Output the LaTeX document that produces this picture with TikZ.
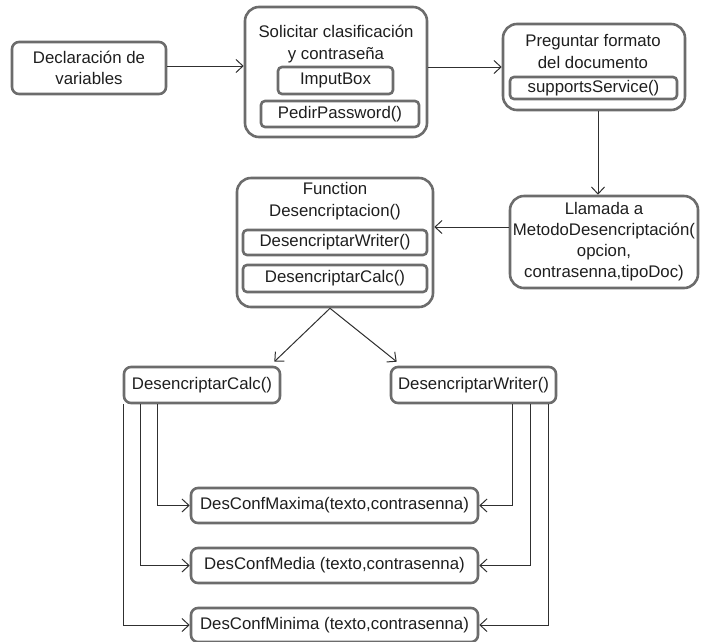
\documentclass[tikz,border=0pt]{standalone}
\usepackage{fontspec}
\setmainfont{Liberation Sans}
\usetikzlibrary{arrows.meta}
\definecolor{boxgray}{HTML}{6C6C6C}
\definecolor{linec}{HTML}{303030}
\definecolor{txt}{HTML}{1E1E1E}
\tikzset{
  bigbox/.style={draw=boxgray, line width=2.6pt, rounded corners=14pt, inner sep=0pt, text=txt, align=center, font=\fontsize{16.8}{21}\selectfont},
  midbox/.style={draw=boxgray, line width=2.6pt, rounded corners=7pt, inner sep=0pt, text=txt, align=center, font=\fontsize{16.8}{21}\selectfont},
  smallbox/.style={draw=boxgray, line width=2.6pt, rounded corners=4pt, inner sep=0pt, text=txt, align=center, font=\fontsize{16.8}{21}\selectfont},
  lbl/.style={inner sep=0pt, text=txt, align=center, font=\fontsize{16.8}{22}\selectfont},
  arr/.style={draw=linec, line width=1pt, -{Straight Barb[length=7pt,width=13pt]}},
  conn/.style={draw=linec, line width=1pt}
}
\begin{document}
\begin{tikzpicture}[x=1pt,y=-1pt]
\useasboundingbox (0,0) rectangle (701,641);
% top row
\node[midbox, minimum width=154pt, minimum height=52pt] (decl) at (89,68) {Declaración de\\variables};
\node[bigbox, minimum width=182pt, minimum height=130pt] (sol) at (336,72) {};
\node[lbl] (solt) at (336,44) {Solicitar clasificación\\y contraseña};
\node[smallbox, minimum width=115pt, minimum height=27pt] (imp) at (335.5,80.5) {ImputBox};
\node[smallbox, minimum width=158pt, minimum height=26pt] (ped) at (340,114) {PedirPassword()};
\node[bigbox, minimum width=182pt, minimum height=86pt] (preg) at (594,67) {};
\node[lbl] (pregt) at (593,51) {Preguntar formato\\del documento};
\node[smallbox, minimum width=167pt, minimum height=22pt] (sup) at (593.5,88) {supportsService()};
% middle row
\node[bigbox, minimum width=188pt, minimum height=92pt] (llam) at (604,242) {Llamada a\\MetodoDesencriptación(\\opcion,\\contrasenna,tipoDoc)};
\node[bigbox, minimum width=196pt, minimum height=129pt] (func) at (335,242.5) {};
\node[lbl] (funct) at (335,201) {Function\\Desencriptacion()};
\node[smallbox, minimum width=184pt, minimum height=25pt] (dw) at (335,242.5) {DesencriptarWriter()};
\node[smallbox, minimum width=184pt, minimum height=27pt] (dc) at (335,278.5) {DesencriptarCalc()};
% lower
\node[midbox, minimum width=156pt, minimum height=36pt] (calc) at (202,385) {DesencriptarCalc()};
\node[midbox, minimum width=165pt, minimum height=36pt] (writ) at (473.5,385) {DesencriptarWriter()};
\node[midbox, minimum width=287pt, minimum height=35pt] (max) at (334.5,505.5) {DesConfMaxima(texto,contrasenna)};
\node[midbox, minimum width=287pt, minimum height=35pt] (med) at (334.5,565.5) {DesConfMedia (texto,contrasenna)};
\node[midbox, minimum width=287pt, minimum height=34pt] (min) at (334.5,625) {DesConfMinima (texto,contrasenna)};
% connectors
\draw[arr] ([yshift=2pt]decl.east) -- ([yshift=2pt]decl.east -| sol.west);
\draw[arr] (preg.west -| sol.east) -- (preg.west);
\draw[arr] ([xshift=4pt]preg.south) -- ([xshift=4pt]preg.south |- llam.north);
\draw[arr] ([yshift=15pt]llam.west) -- ([yshift=15pt]llam.west -| func.east);
\coordinate (fb) at ([xshift=-5pt]func.south);
\draw[arr] (fb) -- ([xshift=-7pt,yshift=4pt]calc.north east);
\draw[arr] (fb) -- ([xshift=7pt,yshift=4pt]writ.north west);
% calc to confs
\draw[arr] ([xshift=35pt]calc.south west) |- (max.west);
\draw[arr] ([xshift=18pt]calc.south west) |- (med.west);
\draw[arr] ([xshift=0.5pt]calc.south west) |- (min.west);
% writer to confs
\draw[arr] ([xshift=-45pt]writ.south east) |- (max.east);
\draw[arr] ([xshift=-27pt]writ.south east) |- (med.east);
\draw[arr] ([xshift=-9pt]writ.south east) |- (min.east);
\end{tikzpicture}
\end{document}
